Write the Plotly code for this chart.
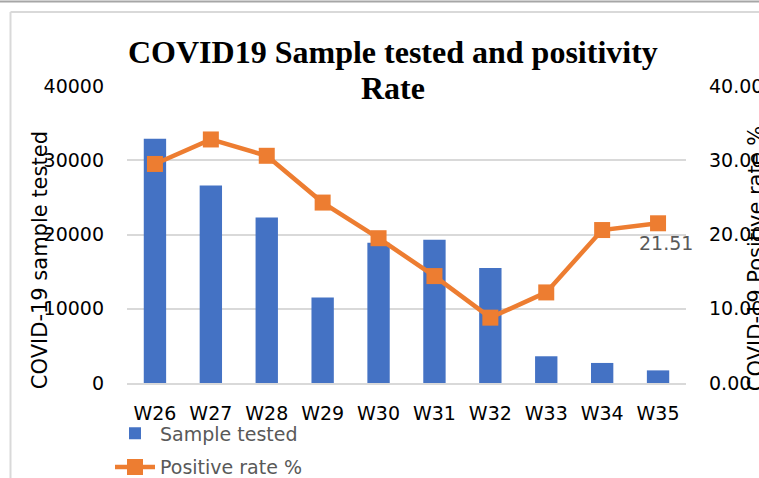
import plotly.graph_objects as go

weeks = ["W26", "W27", "W28", "W29", "W30", "W31", "W32", "W33", "W34", "W35"]
samples_tested = [32900, 26600, 22300, 11500, 18900, 19300, 15500, 3600, 2700, 1700]
positive_rate = [29.5, 32.8, 30.6, 24.3, 19.5, 14.4, 8.8, 12.2, 20.6, 21.51]
left_ticks = [0, 10000, 20000, 30000, 40000]
right_ticks = [0, 10, 20, 30, 40]
title_lines = ["COVID19 Sample tested and positivity", "Rate"]

W, H = 759, 478
L, R, T, B = 127, 686, 86, 382.7

BLUE = "#4472C4"
ORANGE = "#ED7D31"
GRID = "#D9D9D9"
GRAYTXT = "#595959"
FONT = "DejaVu Sans"


def px(x):
    return (x - L) / (R - L)


def py(y):
    return (B - y) / (B - T)


fig = go.Figure()
fig.add_trace(go.Bar(
    x=weeks, y=samples_tested, name="Sample tested",
    marker=dict(color=BLUE, line=dict(width=0)),
    yaxis="y", legendgroup="a",
))
fig.add_trace(go.Scatter(
    x=weeks, y=positive_rate, name="Positive rate %",
    mode="lines+markers",
    line=dict(color=ORANGE, width=4.5),
    marker=dict(symbol="square", size=16, color=ORANGE),
    yaxis="y2", legendgroup="b",
))

# data label on last point
fig.add_annotation(
    x=weeks[-1], y=positive_rate[-1], xref="x", yref="y2",
    text=f"{positive_rate[-1]:.2f}", showarrow=False,
    xshift=8, yshift=-20,
    font=dict(family=FONT, size=19, color=GRAYTXT),
)

# title (two lines, bold serif)
for txt, ymid in zip(title_lines, [52, 88]):
    fig.add_annotation(
        x=px(393), y=py(ymid), xref="paper", yref="paper",
        text=f"<b>{txt}</b>", showarrow=False,
        xanchor="center", yanchor="middle",
        font=dict(family="Liberation Serif", size=32, color="#000000"),
    )

# axis titles (overlapping tick labels as in reference)
fig.add_annotation(
    x=px(40), y=py(260), xref="paper", yref="paper",
    text="COVID-19 sample tested", textangle=-90, showarrow=False,
    xanchor="center", yanchor="middle",
    font=dict(family=FONT, size=21, color="#000000"),
)
fig.add_annotation(
    x=px(756), y=py(259), xref="paper", yref="paper",
    text="COVID-19 Positive rate %", textangle=-90, showarrow=False,
    xanchor="center", yanchor="middle",
    font=dict(family=FONT, size=21, color="#000000"),
)

# frame decorations
fig.add_shape(type="line", xref="paper", yref="paper",
              x0=px(0), x1=px(W), y0=py(1.5), y1=py(1.5),
              line=dict(color="#A6A6A6", width=2))
fig.add_shape(type="line", xref="paper", yref="paper",
              x0=px(10.5), x1=px(W + 5), y0=py(12), y1=py(12),
              line=dict(color=GRID, width=2))
fig.add_shape(type="line", xref="paper", yref="paper",
              x0=px(10.5), x1=px(10.5), y0=py(12), y1=py(H + 5),
              line=dict(color=GRID, width=2))

fig.update_layout(
    width=W, height=H,
    margin=dict(l=L, r=W - R, t=T, b=H - B, pad=0, autoexpand=False),
    paper_bgcolor="white", plot_bgcolor="white",
    bargap=0.6,
    showlegend=True,
    legend=dict(
        x=px(110), y=py(414), xanchor="left", yanchor="top",
        orientation="v",
        font=dict(family=FONT, size=19, color=GRAYTXT),
        bgcolor="rgba(0,0,0,0)",
        tracegroupgap=6, itemwidth=40,
    ),
    xaxis=dict(
        type="category", range=[-0.5, len(weeks) - 0.5],
        showgrid=False, showline=True, linecolor=GRID,
        linewidth=1.5, ticks="", ticklabelstandoff=12,
        tickfont=dict(family=FONT, size=19, color="#000000"),
    ),
    yaxis=dict(
        range=[0, 40000], tickvals=left_ticks,
        ticktext=[str(v) for v in left_ticks],
        showgrid=True, gridcolor=GRID, gridwidth=1.5, zeroline=False,
        showline=False, ticks="", ticklabelstandoff=22,
        tickfont=dict(family=FONT, size=19, color="#000000"),
    ),
    yaxis2=dict(
        range=[0, 40], tickvals=right_ticks,
        ticktext=[f"{v:.2f}" for v in right_ticks],
        overlaying="y", side="right", showgrid=False, zeroline=False,
        showline=False, ticks="", ticklabelstandoff=22,
        tickfont=dict(family=FONT, size=19, color="#000000"),
    ),
)

fig.write_html(
    "out.html",
    config={"displayModeBar": False},
    post_script="document.body.style.margin='0px';document.body.style.overflow='hidden';",
)
